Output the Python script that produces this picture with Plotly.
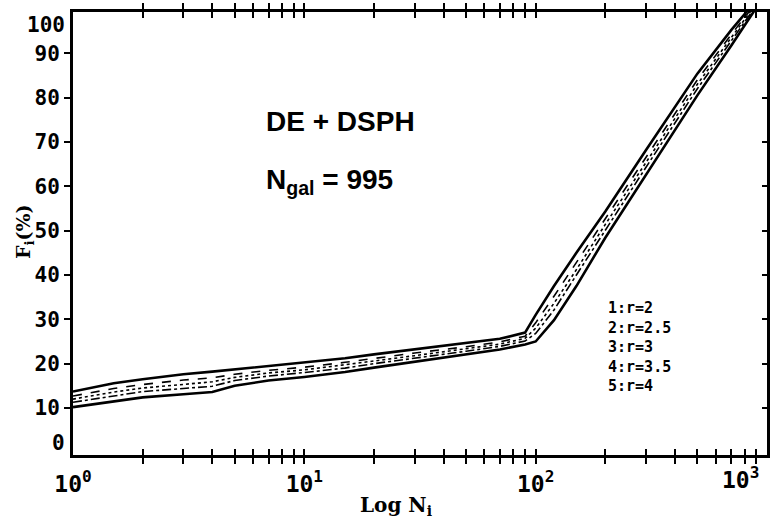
import plotly.graph_objects as go

# ---- data ----
N = [1, 1.5, 2, 3, 4, 5, 7, 10, 15, 20, 30, 50, 70, 90, 100, 120, 150, 200, 300, 500, 700, 900]

f_r2 = [13.7, 15.6, 16.5, 17.6, 18.2, 18.7, 19.5, 20.2, 21.2, 22.1, 23.2, 24.6, 25.6, 27.0,
        31.0, 37.5, 45.0, 54.3, 68.2, 85.4, 95.2, 102.0]
f_r25 = [12.7, 14.4, 15.3, 16.3, 16.8, 17.6, 18.5, 19.2, 20.3, 21.2, 22.4, 23.8, 24.9, 26.2,
         29.2, 35.2, 42.8, 52.5, 66.6, 84.0, 94.2, 101.5]
f_r3 = [12.0, 13.6, 14.5, 15.4, 15.9, 16.9, 17.9, 18.6, 19.7, 20.6, 21.8, 23.3, 24.4, 25.7,
        28.0, 33.6, 41.2, 51.4, 65.5, 83.0, 93.5, 101.2]
f_r35 = [11.3, 12.8, 13.7, 14.4, 14.9, 16.2, 17.2, 18.0, 19.0, 20.0, 21.2, 22.8, 23.9, 25.1,
         26.8, 32.1, 40.0, 50.2, 64.3, 82.0, 92.8, 100.8]
f_r4 = [10.2, 11.5, 12.4, 13.1, 13.6, 15.0, 16.2, 17.0, 18.1, 19.1, 20.4, 22.0, 23.2, 24.3,
        25.0, 29.8, 37.5, 48.4, 62.7, 80.5, 91.7, 100.3]

series_labels = ["1:r=2", "2:r=2.5", "3:r=3", "4:r=3.5", "5:r=4"]
y_tick_vals = [10, 20, 30, 40, 50, 60, 70, 80, 90]
y_extra_labels = ["0", "100"]
x_decades = [1, 10, 100, 1000]
x_decade_labels = ["10<sup>0</sup>", "10<sup>1</sup>", "10<sup>2</sup>", "10<sup>3</sup>"]

title_line1 = "DE + DSPH"
title_line2 = "N<sub>gal</sub> = 995"

# ---- styling ----
series = [f_r2, f_r25, f_r3, f_r35, f_r4]
styles = [
    dict(width=2.6, dash="solid"),
    dict(width=1.6, dash="dash"),
    dict(width=1.6, dash="dot"),
    dict(width=1.6, dash="dashdot"),
    dict(width=2.6, dash="solid"),
]

fig = go.Figure()
for vals, st, name in zip(series, styles, series_labels):
    fig.add_trace(go.Scatter(x=N, y=vals, mode="lines", name=name,
                             line=dict(color="black", **st), showlegend=False))
# invisible trace so the right-hand (inward tick) axis is drawn
fig.add_trace(go.Scatter(x=N, y=f_r3, yaxis="y2", mode="lines", opacity=0,
                         line=dict(width=0), showlegend=False, hoverinfo="skip"))

# x tick values: all 1..9 per decade, labels only on decades (last one via annotation)
x_tick_vals = []
for d in x_decades[:-1]:
    for m in range(1, 10):
        x_tick_vals.append(d * m)
x_tick_vals.append(x_decades[-1])
x_tick_text = []
for v in x_tick_vals:
    if v in x_decades[:-1]:
        x_tick_text.append(x_decade_labels[x_decades.index(v)])
    else:
        x_tick_text.append("")

YR = [-0.6, 99.3]
tick_font = dict(family="DejaVu Sans Mono", size=21, color="black", weight="bold")
xt_font = dict(family="DejaVu Sans Mono", size=23, color="black", weight="bold")

fig.update_layout(
    width=770, height=521,
    margin=dict(l=73, r=3, t=12, b=66),
    paper_bgcolor="white", plot_bgcolor="white",
    xaxis=dict(type="log", range=[0, 3], tickvals=x_tick_vals, ticktext=x_tick_text,
               ticks="inside", ticklen=6, tickwidth=2, tickcolor="black",
               showline=True, linewidth=3, linecolor="black", mirror="allticks",
               showgrid=False, zeroline=False, automargin=False,
               tickfont=xt_font, ticklabelstandoff=6),
    yaxis=dict(range=YR, tickvals=y_tick_vals, ticks="outside", ticklen=6, tickwidth=2,
               tickcolor="black", showline=True, linewidth=3, linecolor="black", mirror=True,
               showgrid=False, zeroline=False, automargin=False, tickfont=tick_font,
               ticklabelstandoff=0),
    yaxis2=dict(range=YR, overlaying="y", side="right", tickvals=y_tick_vals, ticks="inside",
                ticklen=5, tickwidth=2, tickcolor="black", showticklabels=False,
                showline=False, showgrid=False, zeroline=False, automargin=False),
)

ann = []
# y labels at 0 and 100, offset into the frame as in the original
ann.append(dict(x=0, xref="paper", xanchor="right", xshift=-6, y=2.1, yref="y",
                yanchor="middle", text=y_extra_labels[0], showarrow=False, font=tick_font))
ann.append(dict(x=0, xref="paper", xanchor="right", xshift=-6, y=96.4, yref="y",
                yanchor="middle", text=y_extra_labels[1], showarrow=False, font=tick_font))
# last decade label, pulled inside the figure
ann.append(dict(x=1, xref="paper", xanchor="right", xshift=-6, y=0, yref="paper",
                yanchor="top", yshift=-6, text=x_decade_labels[-1], showarrow=False,
                font=xt_font))
# axis titles
ann.append(dict(x=(396 - 73) / 694, xref="paper", xanchor="center",
                y=(455 - 506) / 443, yref="paper", yanchor="middle",
                text="Log N<sub>i</sub>", showarrow=False,
                font=dict(family="DejaVu Serif", size=20, color="black", weight="bold")))
ann.append(dict(x=(24 - 73) / 694, xref="paper", xanchor="center",
                y=(455 - 232) / 443, yref="paper", yanchor="middle",
                text="F<sub>i</sub>(%)", showarrow=False, textangle=-90,
                font=dict(family="DejaVu Serif", size=19, color="black", weight="bold")))
# in-plot titles
big_font = dict(family="Liberation Sans", size=28, color="black", weight="bold")
ann.append(dict(x=(264 - 73) / 694, xref="paper", xanchor="left",
                y=(455 - 122) / 443, yref="paper", yanchor="middle",
                text=title_line1, showarrow=False, font=big_font))
ann.append(dict(x=(264 - 73) / 694, xref="paper", xanchor="left",
                y=(455 - 182) / 443, yref="paper", yanchor="middle",
                text=title_line2, showarrow=False, font=big_font))
# series key (one multi-line text block)
leg_font = dict(family="DejaVu Sans Mono", size=15, color="black", weight="bold")
ann.append(dict(x=(606 - 73) / 694, xref="paper", xanchor="left",
                y=(455 - 347) / 443, yref="paper", yanchor="middle", align="left",
                text="<br>".join(series_labels), showarrow=False, font=leg_font))
fig.update_layout(annotations=ann)

fig.write_html("out.html",
               config={"displayModeBar": False},
               post_script="document.body.style.margin='0';"
                           "document.body.style.overflow='hidden';")
